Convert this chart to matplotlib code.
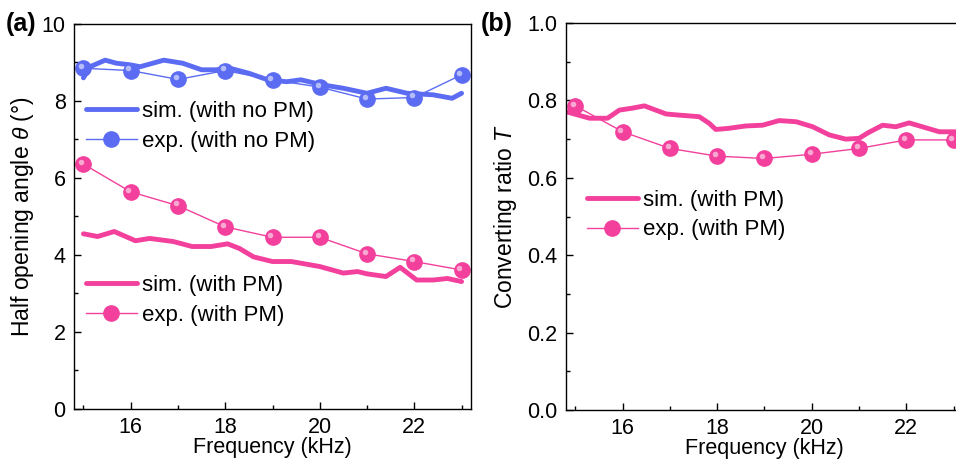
import numpy as np
import matplotlib
matplotlib.use('Agg')
import matplotlib.pyplot as plt
import matplotlib.transforms as mtransforms
from matplotlib.ticker import MultipleLocator, FormatStrFormatter

plt.rcParams.update({
    'font.family': 'Liberation Sans',
    'font.size': 16,
    'mathtext.fontset': 'custom',
    'mathtext.rm': 'Liberation Sans',
    'mathtext.it': 'Liberation Sans:italic',
    'axes.linewidth': 1.0,
    'xtick.direction': 'in',
    'ytick.direction': 'in',
})

# ---- data ----
# panel (a): half opening angle
f_sim_a_nopm = [15.0, 15.14, 15.46, 15.7, 15.98, 16.2, 16.7, 17.1, 17.5, 17.8, 18.1, 18.5,
                18.9, 19.3, 19.6, 20.05, 20.5, 21.0, 21.4, 21.85, 22.4, 22.8, 23.0]
sim_a_nopm = [8.60, 8.89, 9.06, 8.98, 8.94, 8.89, 9.06, 8.98, 8.81, 8.81, 8.85, 8.72,
              8.55, 8.50, 8.55, 8.42, 8.33, 8.20, 8.33, 8.20, 8.16, 8.07, 8.20]

f_sim_a_pm = [15.0, 15.3, 15.65, 16.1, 16.4, 16.9, 17.3, 17.7, 18.05, 18.3, 18.6, 19.0,
              19.4, 20.0, 20.5, 20.8, 21.0, 21.4, 21.7, 22.05, 22.4, 22.7, 23.0]
sim_a_pm = [4.55, 4.48, 4.61, 4.37, 4.43, 4.35, 4.22, 4.22, 4.29, 4.17, 3.95, 3.83,
            3.83, 3.70, 3.53, 3.57, 3.51, 3.44, 3.68, 3.35, 3.35, 3.39, 3.31]

f_exp = [15, 16, 17, 18, 19, 20, 21, 22, 23]
exp_a_nopm = [8.85, 8.79, 8.56, 8.79, 8.55, 8.36, 8.05, 8.09, 8.68]
exp_a_pm = [6.36, 5.64, 5.28, 4.73, 4.46, 4.46, 4.03, 3.83, 3.61]

# panel (b): converting ratio
f_sim_b = [14.8, 15.3, 15.68, 15.93, 16.2, 16.46, 16.7, 16.92, 17.2, 17.62, 17.83, 17.97,
           18.25, 18.6, 18.96, 19.31, 19.67, 20.02, 20.37, 20.72, 21.0, 21.2, 21.5,
           21.78, 22.06, 22.34, 22.7, 23.2]
sim_b = [0.771, 0.754, 0.754, 0.775, 0.780, 0.786, 0.775, 0.765, 0.762, 0.758, 0.741, 0.725,
         0.728, 0.734, 0.736, 0.748, 0.745, 0.732, 0.711, 0.700, 0.702, 0.717, 0.736,
         0.732, 0.742, 0.732, 0.719, 0.719]
exp_b = [0.786, 0.719, 0.676, 0.656, 0.650, 0.661, 0.676, 0.698, 0.698]

blue = '#5B6CF2'
pink = '#F2409C'


def sim_line(ax, x, y, color, label):
    ln, = ax.plot(x, y, color=color, lw=3.5, label=label,
                  solid_joinstyle='round', solid_capstyle='round')
    return ln


def ball_line(ax, x, y, color, label):
    # thin line with ball markers, plus a small highlight for the shaded look
    ln, = ax.plot(x, y, '-o', color=color, lw=1.0, ms=11, mec=color, mfc=color, label=label)
    tr = mtransforms.offset_copy(ax.transData, fig=ax.figure, x=-1.6, y=1.6, units='points')
    ax.plot(x, y, 'o', ms=4, color='white', alpha=0.55, mec='none', transform=tr)
    return ln


def style_axes(ax):
    ax.set_xlim(14.8, 23.2)
    ax.xaxis.set_major_locator(MultipleLocator(2))
    ax.xaxis.set_minor_locator(MultipleLocator(1))
    ax.tick_params(which='major', length=5, width=1, labelsize=15.5, pad=6)
    ax.tick_params(which='minor', length=3, width=1)
    ax.set_xlabel('Frequency (kHz)', fontsize=15.5, labelpad=-1)


leg_kw = dict(loc='upper left', frameon=False, fontsize=16, handlelength=2.3,
              handletextpad=0.22, labelspacing=0.39, borderaxespad=0)

fig = plt.figure(figsize=(9.56, 4.61), dpi=100)
ax1 = fig.add_axes([0.0774, 0.1128, 0.4153, 0.8352])
ax2 = fig.add_axes([0.592, 0.1106, 0.4153, 0.8394])

# (a)
l1 = sim_line(ax1, f_sim_a_nopm, sim_a_nopm, blue, 'sim. (with no PM)')
l2 = ball_line(ax1, f_exp, exp_a_nopm, blue, 'exp. (with no PM)')
l3 = sim_line(ax1, f_sim_a_pm, sim_a_pm, pink, 'sim. (with PM)')
l4 = ball_line(ax1, f_exp, exp_a_pm, pink, 'exp. (with PM)')
style_axes(ax1)
ax1.set_ylim(0, 10)
ax1.yaxis.set_major_locator(MultipleLocator(2))
ax1.yaxis.set_minor_locator(MultipleLocator(1))
ax1.set_ylabel(r'Half opening angle $\it{\theta}$ (°)', fontsize=16.5, labelpad=4)

leg1 = ax1.legend(handles=[l1, l2], bbox_to_anchor=(0.007, 0.823), **leg_kw)
ax1.add_artist(leg1)
ax1.legend(handles=[l3, l4], bbox_to_anchor=(0.007, 0.371), **leg_kw)

# (b)
s1 = sim_line(ax2, f_sim_b, sim_b, pink, 'sim. (with PM)')
s2 = ball_line(ax2, f_exp, exp_b, pink, 'exp. (with PM)')
style_axes(ax2)
ax2.set_ylim(0, 1.0)
ax2.yaxis.set_major_locator(MultipleLocator(0.2))
ax2.yaxis.set_minor_locator(MultipleLocator(0.1))
ax2.yaxis.set_major_formatter(FormatStrFormatter('%.1f'))
ax2.set_ylabel(r'Converting ratio $\it{T}$', fontsize=16.5, labelpad=6)
ax2.legend(handles=[s1, s2], bbox_to_anchor=(0.03, 0.592), **leg_kw)

fig.text(0.006, 0.948, '(a)', fontsize=18, fontweight='bold', va='center')
fig.text(0.503, 0.948, '(b)', fontsize=18, fontweight='bold', va='center')

fig.savefig('out.png', dpi=100)
